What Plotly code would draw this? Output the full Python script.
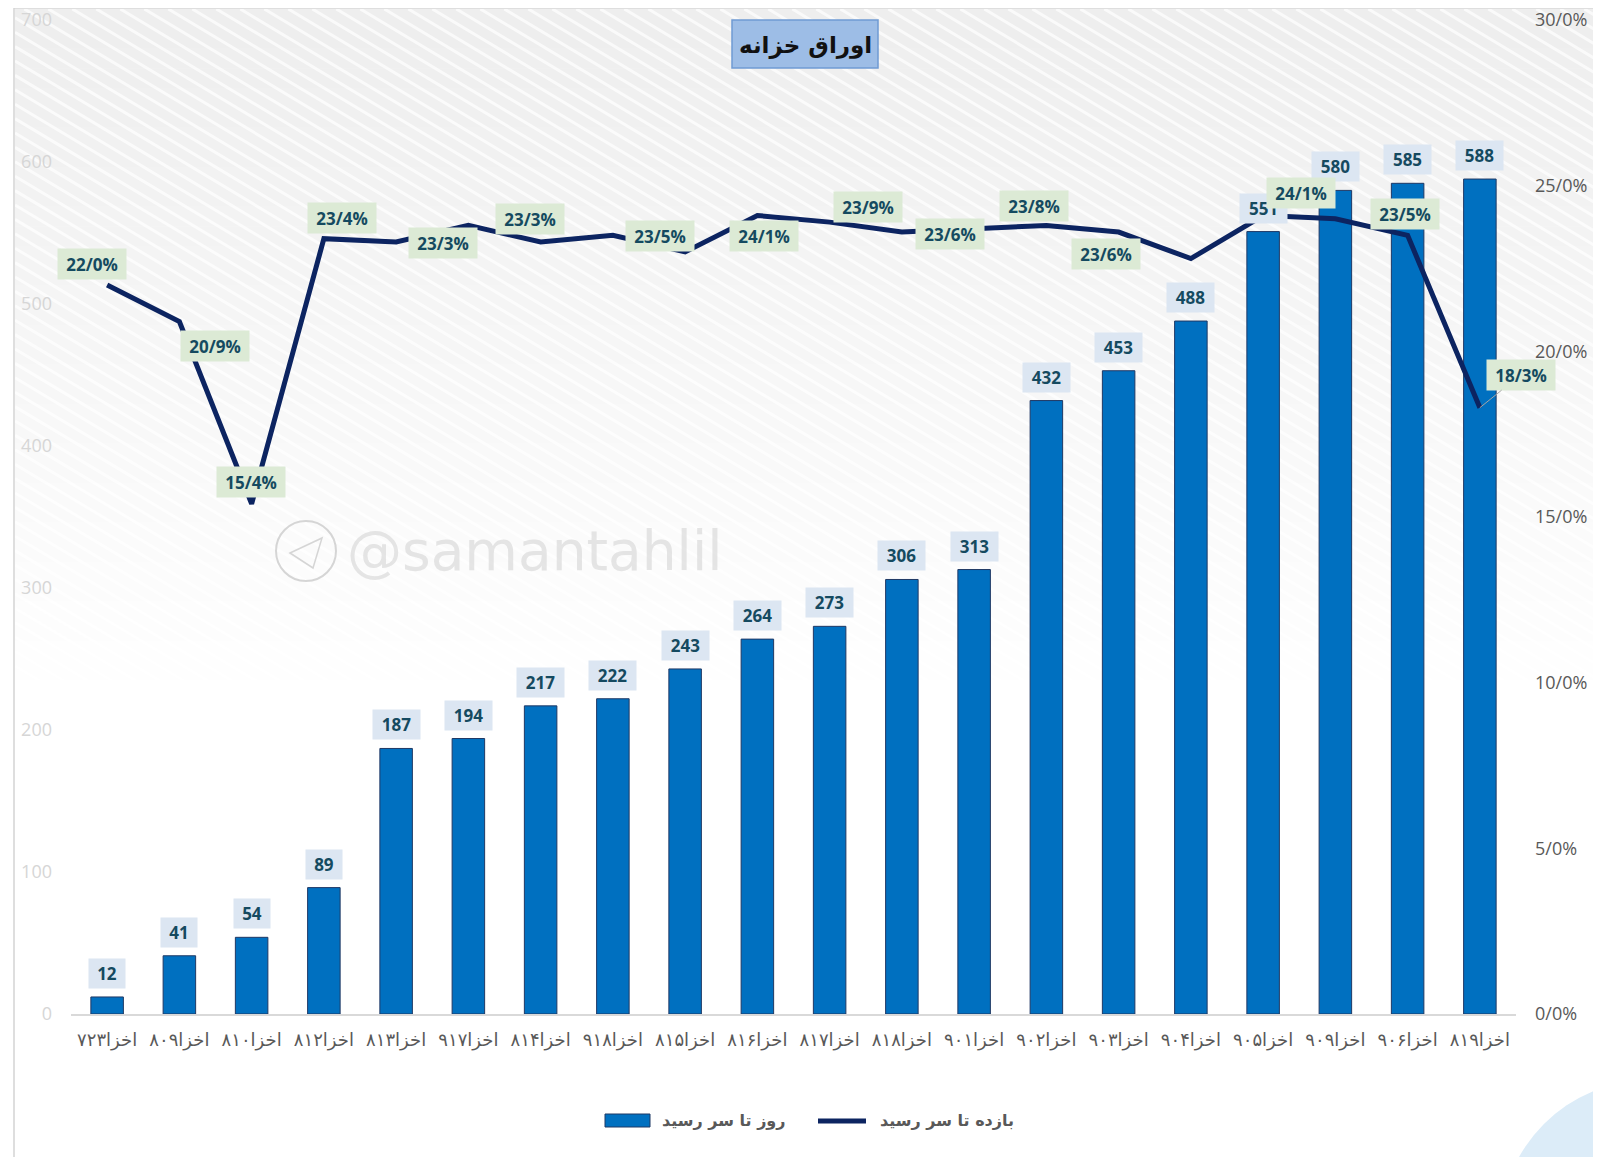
import plotly.graph_objects as go

# ---------------- data ----------------
categories = [
    "اخزا۷۲۳", "اخزا۸۰۹", "اخزا۸۱۰", "اخزا۸۱۲", "اخزا۸۱۳", "اخزا۹۱۷", "اخزا۸۱۴",
    "اخزا۹۱۸", "اخزا۸۱۵", "اخزا۸۱۶", "اخزا۸۱۷", "اخزا۸۱۸", "اخزا۹۰۱", "اخزا۹۰۲",
    "اخزا۹۰۳", "اخزا۹۰۴", "اخزا۹۰۵", "اخزا۹۰۹", "اخزا۹۰۶", "اخزا۸۱۹",
]
days_to_maturity = [12, 41, 54, 89, 187, 194, 217, 222, 243, 264, 273, 306, 313,
                    432, 453, 488, 551, 580, 585, 588]
ytm_percent = [22.0, 20.9, 15.4, 23.4, 23.3, 23.8, 23.3, 23.5, 23.0, 24.1, 23.9,
               23.6, 23.7, 23.8, 23.6, 22.8, 24.1, 24.0, 23.5, 18.3]
ytm_labelled = [True, True, True, True, True, False, True, True, False, True, True,
                True, False, True, True, False, True, False, True, True]
left_ticks = [0, 100, 200, 300, 400, 500, 600, 700]
right_ticks = [0, 5, 10, 15, 20, 25, 30]
right_tick_labels = ["0/0%", "5/0%", "10/0%", "15/0%", "20/0%", "25/0%", "30/0%"]
title_text = "اوراق خزانه"
bar_name = "روز تا سر رسید"
line_name = "بازده تا سر رسید"
watermark = "@samantahlil"

# ---------------- layout helpers ----------------
OFF = 8                      # default page body margin
W, H = 1601 - OFF, 1157 - OFF
L, R, T, B = 63, 85, 12, 143
PW, PH = W - L - R, H - T - B


def sx(x):
    """screen pixel x -> paper"""
    return (x - OFF - L) / PW


def sy(y):
    """screen pixel y -> paper"""
    return (H - B - (y - OFF)) / PH


# label offsets (pixels) for yield labels: (dx, dy-up)
label_offsets = [(-15, 21), (36, -24), (-1, 22), (18, 21), (47, -1), (0, 0), (-11, 23),
                 (47, -1), (0, 0), (7, -21), (38, 15), (48, -2), (0, 0), (-12, 19),
                 (-13, -22), (0, 0), (38, 22), (0, 0), (-3, 21), (41, 33)]

BAR_COLOR = "#0070c0"
LINE_COLOR = "#0c2461"
LABEL_TEXT = "#154a60"

fig = go.Figure()
fig.add_trace(go.Bar(
    x=categories, y=days_to_maturity, name=bar_name,
    marker=dict(color=BAR_COLOR, line=dict(color="#1f3864", width=1)),
    showlegend=False, hoverinfo="x+y",
))
fig.add_trace(go.Scatter(
    x=categories, y=ytm_percent, name=line_name, yaxis="y2", mode="lines",
    line=dict(color=LINE_COLOR, width=5), showlegend=False,
))

shapes = []
annotations = []

# background gradient (top grey fading to white)
n_bands = 35
top_px, bot_px = 9, 700
for i in range(n_bands):
    y0 = top_px + (bot_px - top_px) * i / n_bands
    y1 = top_px + (bot_px - top_px) * (i + 1) / n_bands + 0.5
    c = int(238 + (255 - 238) * i / (n_bands - 1))
    shapes.append(dict(type="rect", xref="paper", yref="paper", layer="below",
                       x0=sx(15), x1=sx(1620), y0=sy(y0), y1=sy(y1),
                       fillcolor=f"rgb({c},{c},{c})", line=dict(width=0)))
# diagonal white stripes
slope = 0.6
span = (bot_px - top_px) / slope
x = -span
while x < 1610:
    xs = max(x, 15)
    shapes.append(dict(type="line", xref="paper", yref="paper", layer="below",
                       x0=sx(xs), y0=sy(top_px + (xs - x) * slope),
                       x1=sx(x + span), y1=sy(bot_px),
                       line=dict(color="rgba(255,255,255,0.7)", width=3)))
    x += 24

# chart border
shapes.append(dict(type="rect", xref="paper", yref="paper", layer="below",
                   x0=sx(14), x1=sx(1630), y0=sy(8), y1=sy(1180),
                   line=dict(color="#d4d4d4", width=1.5), fillcolor="rgba(0,0,0,0)"))
# bottom right decorative circle
shapes.append(dict(type="circle", xref="paper", yref="paper", layer="below",
                   x0=sx(1500), x1=sx(1800), y0=sy(1080), y1=sy(1380),
                   fillcolor="#dcecf8", line=dict(width=0)))

# watermark logo
shapes.append(dict(type="circle", xref="paper", yref="paper", layer="below",
                   x0=sx(276), x1=sx(336), y0=sy(521), y1=sy(581),
                   line=dict(color="rgba(200,200,200,0.75)", width=2)))
shapes.append(dict(type="path", xref="paper", yref="paper", layer="below",
                   path=f"M {sx(290)},{sy(553)} L {sx(322)},{sy(538)} L {sx(313)},{sy(568)} Z",
                   line=dict(color="rgba(200,200,200,0.75)", width=1.5)))
annotations.append(dict(xref="paper", yref="paper", x=sx(345), y=sy(551),
                        xanchor="left", yanchor="middle", showarrow=False,
                        text=watermark,
                        font=dict(family="DejaVu Sans", size=55,
                                  color="rgba(195,195,195,0.42)")))

# title box
shapes.append(dict(type="rect", xref="paper", yref="paper",
                   x0=sx(732), x1=sx(878), y0=sy(20), y1=sy(68),
                   fillcolor="#9dbde6", line=dict(color="#6f9bd3", width=1.5)))
annotations.append(dict(xref="paper", yref="paper", x=sx(805), y=sy(45),
                        xanchor="center", yanchor="middle", showarrow=False,
                        text=f"<b>{title_text}</b>",
                        font=dict(family="DejaVu Sans", size=23, color="#111111")))

# bar value labels
for c, v in zip(categories, days_to_maturity):
    s = str(v)
    annotations.append(dict(x=c, y=v, xref="x", yref="y", text=f"<b>{s}</b>",
                            showarrow=False, yanchor="bottom", yshift=8,
                            bgcolor="#dce6f2", borderpad=0,
                            width=14 + 11 * len(s), height=29,
                            font=dict(family="Open Sans", size=17, color=LABEL_TEXT)))

# yield labels
for c, v, show, (dx, dy) in zip(categories, ytm_percent, ytm_labelled, label_offsets):
    if not show:
        continue
    txt = f"<b>{v:.1f}%</b>".replace(".", "/")
    a = dict(x=c, y=v, xref="x", yref="y2", text=txt, bgcolor="#dcead5",
             borderpad=0, width=68, height=30,
             font=dict(family="Open Sans", size=17, color=LABEL_TEXT))
    if abs(dy) > 30:
        a.update(showarrow=True, ax=dx, ay=-dy, arrowhead=0, arrowwidth=1,
                 arrowcolor="#a6a6a6")
    else:
        a.update(showarrow=False, xshift=dx, yshift=dy)
    annotations.append(a)

# custom legend
shapes.append(dict(type="rect", xref="paper", yref="paper",
                   x0=sx(605), x1=sx(650), y0=sy(1114), y1=sy(1127),
                   fillcolor=BAR_COLOR, line=dict(color="#1f3864", width=1)))
annotations.append(dict(xref="paper", yref="paper", x=sx(660), y=sy(1120),
                        xanchor="left", yanchor="middle", showarrow=False,
                        text=f"<b>{bar_name}</b>",
                        font=dict(family="DejaVu Sans", size=16, color="#595959")))
shapes.append(dict(type="line", xref="paper", yref="paper",
                   x0=sx(818), x1=sx(866), y0=sy(1121), y1=sy(1121),
                   line=dict(color=LINE_COLOR, width=5)))
annotations.append(dict(xref="paper", yref="paper", x=sx(878), y=sy(1120),
                        xanchor="left", yanchor="middle", showarrow=False,
                        text=f"<b>{line_name}</b>",
                        font=dict(family="DejaVu Sans", size=16, color="#595959")))

fig.update_layout(
    width=W, height=H,
    margin=dict(l=L, r=R, t=T, b=B, pad=0, autoexpand=False),
    paper_bgcolor="white", plot_bgcolor="rgba(0,0,0,0)",
    bargap=0.55,
    showlegend=False,
    shapes=shapes, annotations=annotations,
    xaxis=dict(type="category", range=[-0.5, len(categories) - 0.5],
               showline=True, linecolor="#d9d9d9", linewidth=1.5,
               showgrid=False, ticks="", tickangle=0, ticklabelstandoff=9,
               ticklabeloverflow="allow",
               tickfont=dict(family="DejaVu Sans", size=18, color="#595959")),
    yaxis=dict(range=[0, 700], tickvals=left_ticks, showgrid=False, zeroline=False,
               ticks="", ticklabelstandoff=18, ticklabeloverflow="allow",
               tickfont=dict(family="Open Sans", size=18, color="#d6d6d6")),
    yaxis2=dict(range=[0, 30], overlaying="y", side="right", tickvals=right_ticks,
                ticktext=right_tick_labels, showgrid=False, zeroline=False,
                ticks="", ticklabelstandoff=18, ticklabeloverflow="allow",
                tickfont=dict(family="Open Sans", size=18, color="#595959")),
)

fig.write_html("out.html")
